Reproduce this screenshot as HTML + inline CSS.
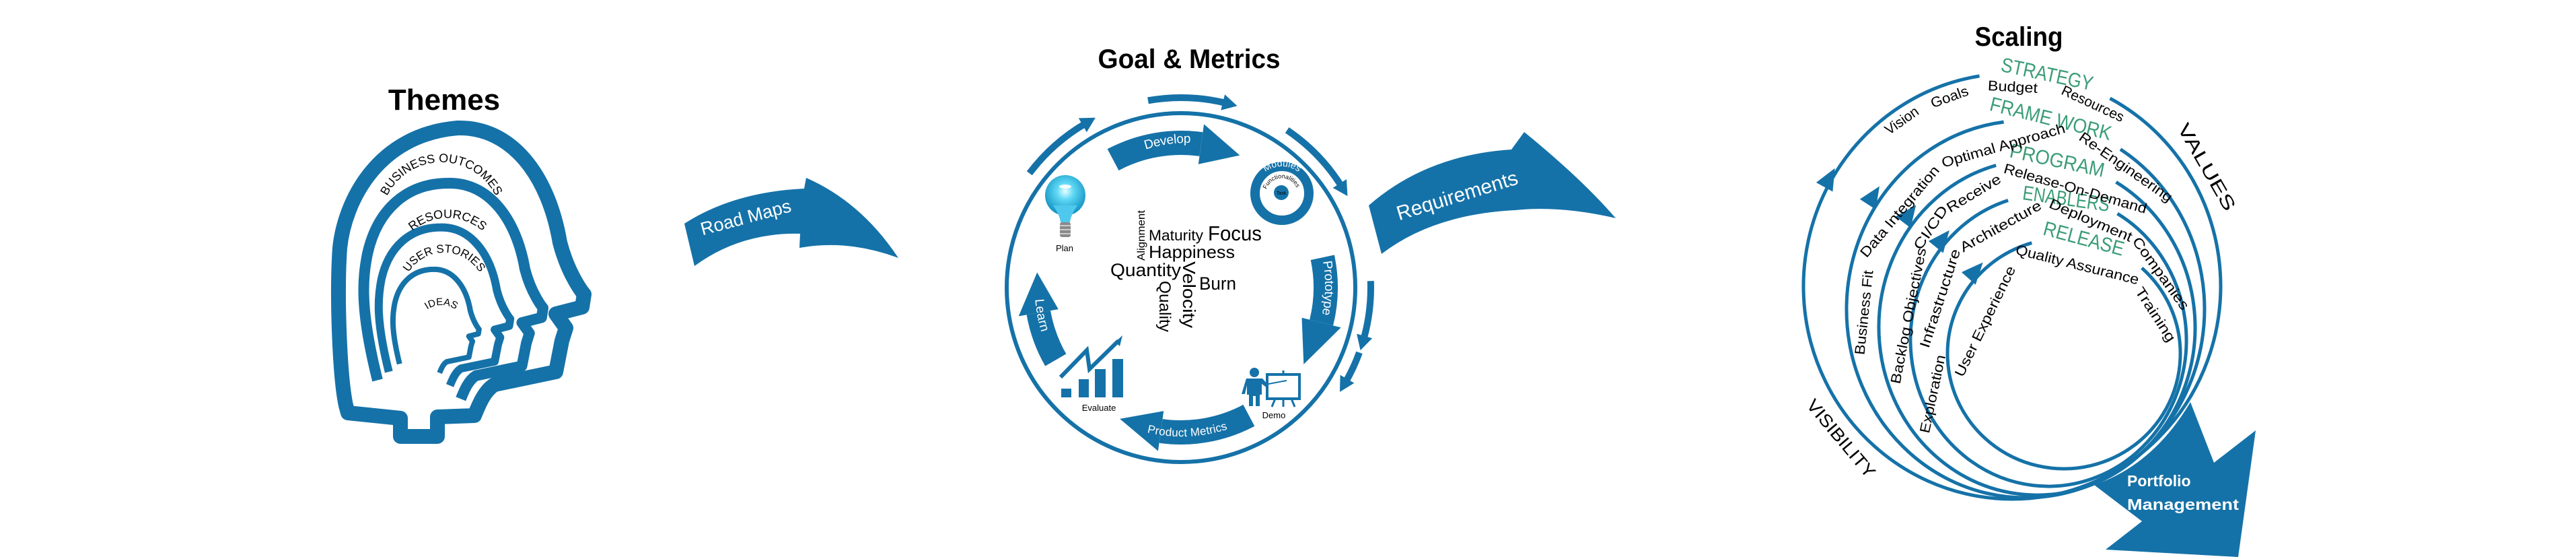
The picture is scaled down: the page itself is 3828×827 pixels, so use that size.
<!DOCTYPE html>
<html><head><meta charset="utf-8"><style>
html,body{margin:0;padding:0;background:#fff;}
svg{display:block;}
text{font-family:"Liberation Sans",sans-serif;}
</style></head><body>
<svg width="3828" height="827" viewBox="0 0 3828 827" xmlns="http://www.w3.org/2000/svg">
<defs>
<radialGradient id="bulb" cx="50%" cy="40%" r="60%">
<stop offset="0" stop-color="#e8ffff"/><stop offset="0.35" stop-color="#5fd8f5"/><stop offset="1" stop-color="#0f8fc0"/>
</radialGradient>
<path id="hp1" d="M568,312 A90,90 0 0 1 744,312"/>
<path id="hp2" d="M586,391 A80,80 0 0 1 744,391"/>
<path id="hp3" d="M598,437 A62,62 0 0 1 722,437"/>
<path id="hp4" d="M619,490 A37,37 0 0 1 693,490"/>
<path id="devp" d="M1654.1,237.2 A215,215 0 0 1 1820,213"/>
<path id="protp" d="M1958,340 A215,215 0 0 1 1955,515"/>
<path id="pmp" d="M1665,622 A215,215 0 0 0 1862,614"/>
<path id="lrnp" d="M1545,405 A215,215 0 0 0 1575,540"/>
<path id="modp" d="M1865,287 A40,40 0 0 1 1945,287"/>
<path id="funp" d="M1885,302 A24,24 0 1 1 1926,300"/>
</defs>

<!-- ============ THEMES ============ -->
<text x="660" y="163" font-size="44" font-weight="bold" text-anchor="middle">Themes</text>
<g fill="none" stroke="#1572a8" stroke-linejoin="round">
<path stroke-width="22" d="M517,613 L514,602 C505,560 500,440 505,368 C512,300 560,200 680,190 C760,188 815,260 832,360 C845,410 868,437 868,437 L865,456 L826,466 L841,487 L835,506 L826,552 L735,571 C720,580 712,600 705,617 L650,619 L650,648 L595,648 L595,621 Z"/>
<path stroke-width="16" vector-effect="non-scaling-stroke" transform="translate(624,518) scale(0.75) translate(-624,-518)" d="M540,580 C505,440 510,380 520,330 C540,240 600,190 680,190 C760,188 815,260 832,360 C845,410 868,437 868,437 L865,456 L826,466 L841,487 L835,506 L826,552 L735,571 C720,580 712,600 705,617"/>
<path stroke-width="12" vector-effect="non-scaling-stroke" transform="translate(624,518) scale(0.55) translate(-624,-518)" d="M540,580 C505,440 510,380 520,330 C540,240 600,190 680,190 C760,188 815,260 832,360 C845,410 868,437 868,437 L865,456 L826,466 L841,487 L835,506 L826,552 L735,571 C720,580 712,600 705,617"/>
<path stroke-width="8" vector-effect="non-scaling-stroke" transform="translate(624,518) scale(0.36) translate(-624,-518)" d="M540,580 C505,440 510,380 520,330 C540,240 600,190 680,190 C760,188 815,260 832,360 C845,410 868,437 868,437 L865,456 L826,466 L841,487 L835,506 L826,552 L735,571 C720,580 712,600 705,617"/>
</g>
<text font-size="18"><textPath href="#hp1" startOffset="50%" text-anchor="middle">BUSINESS OUTCOMES</textPath></text>
<text font-size="18"><textPath href="#hp2" startOffset="50%" text-anchor="middle">RESOURCES</textPath></text>
<text font-size="17"><textPath href="#hp3" startOffset="50%" text-anchor="middle">USER STORIES</textPath></text>
<text font-size="15"><textPath href="#hp4" startOffset="50%" text-anchor="middle">IDEAS</textPath></text>

<!-- Road Maps arrow -->
<path fill="#1572a8" d="M1017,332 Q1090,285 1195,280 L1198,264 Q1280,300 1335,383 Q1260,355 1188,368 L1189,347 Q1100,345 1032,395 Z"/>
<text x="1108" y="332" font-size="27" fill="#fff" text-anchor="middle" transform="rotate(-15 1108 322)">Road Maps</text>

<!-- ============ GOAL & METRICS ============ -->
<text x="1767" y="101" font-size="40" font-weight="bold" text-anchor="middle" textLength="271" lengthAdjust="spacingAndGlyphs">Goal &amp; Metrics</text>
<circle cx="1755" cy="427" r="259" fill="none" stroke="#1572a8" stroke-width="6"/>

<g fill="none" stroke="#1572a8" stroke-width="10">
<path d="M1529.8,257.3 A282,282 0 0 1 1614,182.8"/>
<path d="M1706,149.3 A282,282 0 0 1 1823.2,153.4"/>
<path d="M1912.7,193.2 A282,282 0 0 1 1994.1,277.6"/>
<path d="M2036.8,417.2 A282,282 0 0 1 2026.1,504.7"/>
<path d="M2020,523.4 A282,282 0 0 1 1999.2,568"/>
</g>
<g fill="#1572a8">
<path d="M-6,-12 L16,0 L-6,12 Z" transform="translate(1614,182.8) rotate(-30)"/>
<path d="M-6,-12 L16,0 L-6,12 Z" transform="translate(1823,153.4) rotate(14)"/>
<path d="M-6,-12 L16,0 L-6,12 Z" transform="translate(1994,277.6) rotate(58)"/>
<path d="M-6,-12 L16,0 L-6,12 Z" transform="translate(2026,504.7) rotate(106)"/>
<path d="M-6,-12 L16,0 L-6,12 Z" transform="translate(1999,568) rotate(120)"/>
</g>

<g fill="none" stroke="#1572a8" stroke-width="36">
<path d="M1654.1,237.2 A215,215 0 0 1 1784.9,214.1"/>
<path d="M1965.3,382.3 A215,215 0 0 1 1963.6,479"/>
<path d="M1855.9,616.8 A215,215 0 0 1 1725.1,639.9"/>
<path d="M1568.8,534.5 A215,215 0 0 1 1543.3,464.3"/>
</g>
<g fill="#1572a8">
<path d="M1780.8,243.8 L1789.1,184.4 L1842.4,230.6 Z"/>
<path d="M1934.5,471.8 L1992.7,486.3 L1937.3,540.9 Z"/>
<path d="M1729.2,610.2 L1720.9,669.6 L1664.1,621.9 Z"/>
<path d="M1572.8,459.1 L1513.7,469.5 L1541.2,404.5 Z"/>
</g>
<text font-size="19" fill="#fff" dy="6"><textPath href="#devp" startOffset="50%" text-anchor="middle">Develop</textPath></text>
<text font-size="19" fill="#fff" dy="6"><textPath href="#protp" startOffset="50%" text-anchor="middle">Prototype</textPath></text>
<text font-size="17" fill="#fff" dy="6"><textPath href="#pmp" startOffset="50%" text-anchor="middle">Product Metrics</textPath></text>
<text font-size="19" fill="#fff" dy="6"><textPath href="#lrnp" startOffset="45%" text-anchor="middle">Learn</textPath></text>

<!-- Modules -->
<circle cx="1905" cy="287" r="40" fill="#fff" stroke="#1572a8" stroke-width="14"/>
<circle cx="1904" cy="286" r="11" fill="#1572a8"/>
<text font-size="14" fill="#fff"><textPath href="#modp" startOffset="50%" text-anchor="middle">Modules</textPath></text>
<text font-size="9" fill="#000"><textPath href="#funp" startOffset="50%" text-anchor="middle">Functionalities</textPath></text>
<text x="1904" y="289" font-size="7" fill="#000" text-anchor="middle">Task</text>

<!-- Plan bulb -->
<circle cx="1583" cy="290" r="30" fill="url(#bulb)"/>
<path d="M1565,305 Q1575,320 1576,330 L1590,330 Q1591,320 1601,305 Z" fill="#4fc8ee"/>
<rect x="1575" y="330" width="16" height="22" rx="3" fill="#8a8a8a"/>
<path d="M1575,335 H1591 M1575,341 H1591 M1575,347 H1591" stroke="#ccc" stroke-width="2"/>
<ellipse cx="1583" cy="277" rx="9" ry="3" fill="#fff" opacity="0.9"/>
<text x="1582" y="373" font-size="13" text-anchor="middle">Plan</text>

<!-- Evaluate chart -->
<g fill="#1572a8">
<rect x="1577" y="577" width="15" height="13"/>
<rect x="1603" y="563" width="15" height="27"/>
<rect x="1627" y="548" width="16" height="42"/>
<rect x="1653" y="533" width="16" height="57"/>
<path d="M1657,508 L1668,498 L1664,514 Z"/>
</g>
<polyline points="1576,560 1615,520 1619,548 1662,506" fill="none" stroke="#1572a8" stroke-width="6"/>
<text x="1633" y="610" font-size="13" text-anchor="middle">Evaluate</text>

<!-- Demo -->
<g fill="#1572a8">
<circle cx="1864" cy="553" r="7"/>
<path d="M1852,562 H1876 L1886,573 L1883,576 L1875,570 V586 H1872 V603 H1866 V588 H1862 V603 H1856 V586 H1853 V572 L1850,585 H1845 Z"/>
</g>
<rect x="1883" y="556" width="48" height="36" fill="#fff" stroke="#1572a8" stroke-width="4"/>
<path d="M1895,592 L1890,604 M1919,592 L1924,604 M1907,592 V604 M1907,556 V550" stroke="#1572a8" stroke-width="3"/>
<path d="M1880,571 L1912,565" stroke="#1572a8" stroke-width="2"/>
<text x="1893" y="621" font-size="13" text-anchor="middle">Demo</text>

<!-- word cloud -->
<text x="1707" y="357" font-size="22" textLength="81" lengthAdjust="spacingAndGlyphs">Maturity</text>
<text x="1795" y="357" font-size="31" textLength="80" lengthAdjust="spacingAndGlyphs">Focus</text>
<text x="1707" y="383" font-size="26" textLength="128" lengthAdjust="spacingAndGlyphs">Happiness</text>
<text x="1650" y="410" font-size="27" textLength="105" lengthAdjust="spacingAndGlyphs">Quantity</text>
<text x="1782" y="430" font-size="27" textLength="55" lengthAdjust="spacingAndGlyphs">Burn</text>
<text transform="translate(1701,387) rotate(-90)" font-size="16" textLength="75" lengthAdjust="spacingAndGlyphs">Alignment</text>
<text transform="translate(1758,388) rotate(90)" font-size="26" textLength="99" lengthAdjust="spacingAndGlyphs">Velocity</text>
<text transform="translate(1723,417) rotate(90)" font-size="24" textLength="76" lengthAdjust="spacingAndGlyphs">Quality</text>

<!-- Requirements arrow -->
<path fill="#1572a8" d="M2034,305 Q2120,230 2246,222 L2265,196 Q2350,265 2401,324 Q2320,305 2252,312 Q2130,318 2053,377 Z"/>
<text x="2165" y="302" font-size="30" fill="#fff" text-anchor="middle" transform="rotate(-17 2160 290)">Requirements</text>

<!-- ============ SCALING ============ -->
<text x="3000" y="68" font-size="40" font-weight="bold" text-anchor="middle" textLength="131" lengthAdjust="spacingAndGlyphs">Scaling</text>

<path fill="#1572a8" d="M3255,597 L3290,687 L3352,639 L3326,827 L3129,816 L3183,774 L3112,720 Q3200,690 3255,597 Z"/>
<text x="3161" y="722" font-size="23" font-weight="bold" fill="#fff">Portfolio</text>
<text x="3161" y="757" font-size="23" font-weight="bold" fill="#fff" textLength="166" lengthAdjust="spacingAndGlyphs">Management</text>

<g fill="none" stroke="#1572a8" stroke-width="5">
<path d="M2941.5,112.9 A310,316 0 1 0 3135.5,146"/>
<path d="M2977.6,181.1 A266,280 0 1 0 3151,221.6"/>
<path d="M2966.2,245.5 A235,249 0 1 0 3144.5,270.4"/>
<path d="M2984.1,297.5 A205,217 0 1 0 3146.5,317.1"/>
<path d="M3019.3,360.6 A173,171 0 1 0 3182.8,397.9"/>
</g>
<g fill="#1572a8">
<path d="M0,-22 L14,10 L-14,10 Z" transform="translate(2716,269) rotate(29)"/>
<path d="M0,-22 L14,10 L-14,10 Z" transform="translate(2781,295) rotate(33)"/>
<path d="M0,-22 L14,10 L-14,10 Z" transform="translate(2834,322) rotate(37)"/>
<path d="M0,-22 L14,10 L-14,10 Z" transform="translate(2883,359) rotate(39)"/>
<path d="M0,-22 L14,10 L-14,10 Z" transform="translate(2932,406) rotate(42)"/>
</g>

<g fill="#3b9d78" font-size="30" text-anchor="middle">
<text transform="translate(3040,120) rotate(12)" textLength="139" lengthAdjust="spacingAndGlyphs">STRATEGY</text>
<text transform="translate(3045,186) rotate(14)" textLength="185" lengthAdjust="spacingAndGlyphs">FRAME WORK</text>
<text transform="translate(3055,248) rotate(12)" textLength="143" lengthAdjust="spacingAndGlyphs">PROGRAM</text>
<text transform="translate(3069,305) rotate(8)" textLength="130" lengthAdjust="spacingAndGlyphs">ENABLERS</text>
<text transform="translate(3094,364) rotate(15)" textLength="123" lengthAdjust="spacingAndGlyphs">RELEASE</text>
</g>
<g fill="#000" font-size="21" text-anchor="middle">
<text transform="translate(2826,179) rotate(-35)" dy="7" textLength="56" lengthAdjust="spacingAndGlyphs">Vision</text>
<text transform="translate(2897,144) rotate(-20)" dy="7" textLength="58" lengthAdjust="spacingAndGlyphs">Goals</text>
<text transform="translate(2991,129) rotate(3)" dy="7" textLength="74" lengthAdjust="spacingAndGlyphs">Budget</text>
<text transform="translate(3110,154) rotate(25)" dy="7" textLength="100" lengthAdjust="spacingAndGlyphs">Resources</text>
<text transform="translate(2823,314) rotate(-50)" dy="7" textLength="170" lengthAdjust="spacingAndGlyphs">Data Integration</text>
<text transform="translate(2977,216) rotate(-16)" dy="7" textLength="190" lengthAdjust="spacingAndGlyphs">Optimal Approach</text>
<text transform="translate(3159,248) rotate(35)" dy="7" textLength="164" lengthAdjust="spacingAndGlyphs">Re-Engineering</text>
<text transform="translate(2770,464) rotate(-84)" dy="7" textLength="126" lengthAdjust="spacingAndGlyphs">Business Fit</text>
<text transform="translate(2836,469) rotate(-79)" dy="7" textLength="205" lengthAdjust="spacingAndGlyphs">Backlog Objectives</text>
<text transform="translate(2869,338) rotate(-56)" dy="7" textLength="74" lengthAdjust="spacingAndGlyphs">CI/CD</text>
<text transform="translate(2933,287) rotate(-31)" dy="7" textLength="90" lengthAdjust="spacingAndGlyphs">Receive</text>
<text transform="translate(3084,280) rotate(16)" dy="7" textLength="220" lengthAdjust="spacingAndGlyphs">Release-On-Demand</text>
<text transform="translate(2883,443) rotate(-72)" dy="7" textLength="153" lengthAdjust="spacingAndGlyphs">Infrastructure</text>
<text transform="translate(2872,585) rotate(-78)" dy="7" textLength="118" lengthAdjust="spacingAndGlyphs">Exploration</text>
<text transform="translate(2973,336) rotate(-29)" dy="7" textLength="135" lengthAdjust="spacingAndGlyphs">Architecture</text>
<text transform="translate(3107,327) rotate(23)" dy="7" textLength="132" lengthAdjust="spacingAndGlyphs">Deployment</text>
<text transform="translate(3211,406) rotate(54)" dy="7" textLength="128" lengthAdjust="spacingAndGlyphs">Companies</text>
<text transform="translate(2950,477) rotate(-64)" dy="7" textLength="180" lengthAdjust="spacingAndGlyphs">User Experience</text>
<text transform="translate(3087,393) rotate(14)" dy="7" textLength="188" lengthAdjust="spacingAndGlyphs">Quality Assurance</text>
<text transform="translate(3203,467) rotate(57)" dy="7" textLength="92" lengthAdjust="spacingAndGlyphs">Training</text>
<text transform="translate(3279,248) rotate(60)" dy="9" font-size="27" textLength="145" lengthAdjust="spacingAndGlyphs">VALUES</text>
<text transform="translate(2736,651) rotate(50)" dy="9" font-size="26" textLength="143" lengthAdjust="spacingAndGlyphs">VISIBILITY</text>
</g>
</svg>
</body></html>
